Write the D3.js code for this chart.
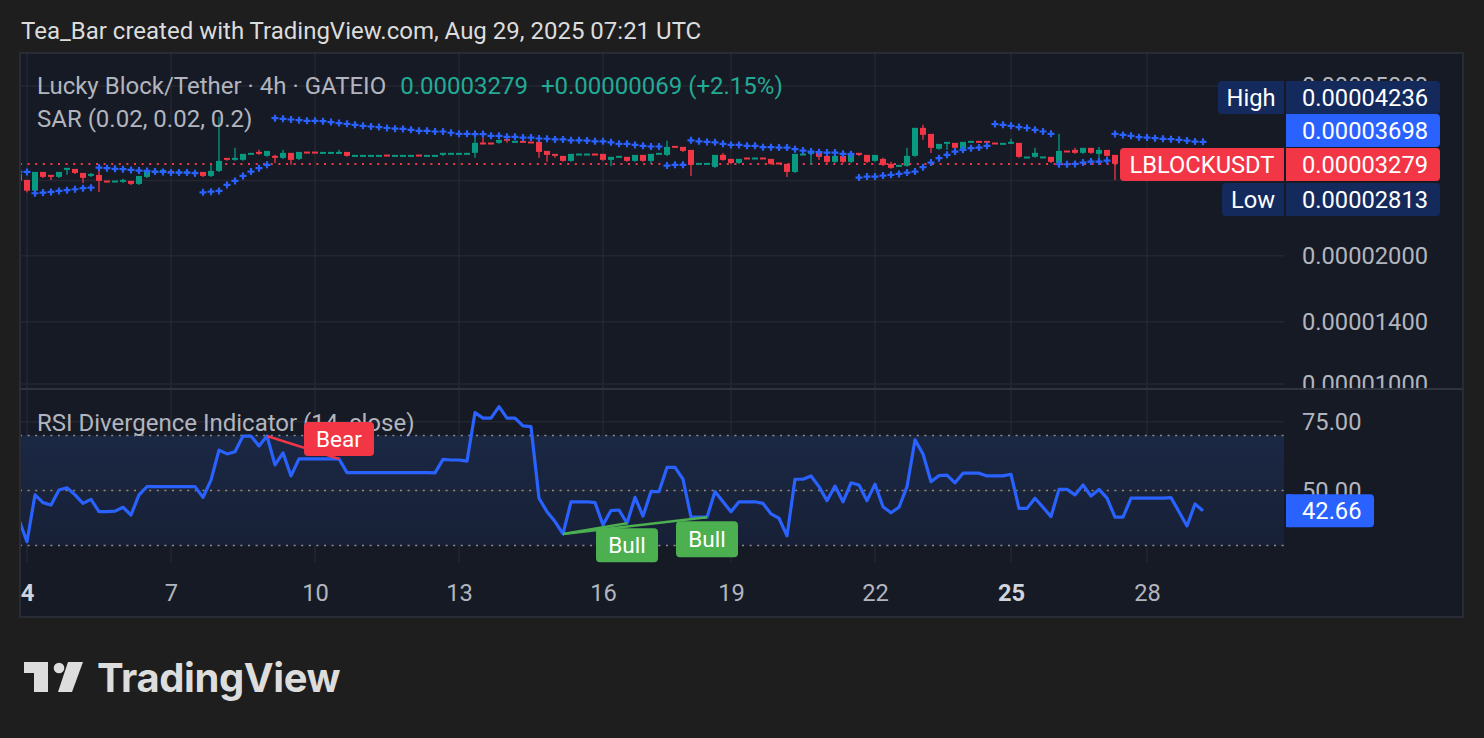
<!DOCTYPE html>
<html>
<head>
<meta charset="utf-8">
<script src="https://cdn.jsdelivr.net/npm/d3@7"></script>
<style>
  html, body { margin: 0; padding: 0; background: #1e1e1e; }
  svg { display: block; font-family: Roboto, "Noto Sans", sans-serif; }
</style>
</head>
<body>
<svg id="chart"></svg>
<script>
// Prices are kept in units of 0.00000001 USDT (1e-8), bars are 4h, first bar is one before the "4" tick
const opens = [
    3094, 2995, 2825, 3127, 3077, 3044, 3178, 3178, 3110, 3060,
    3077, 2985, 2979, 2963, 2979, 2931, 3044, 3110, 3110, 3144,
    3120, 3127, 3127, 3127, 3060, 3144, 3373, 3337, 3337, 3447,
    3484, 3410, 3410, 3373, 3466, 3355, 3490, 3490, 3478, 3478,
    3478, 3484, 3422, 3422, 3422, 3422, 3434, 3422, 3422, 3422,
    3434, 3422, 3422, 3428, 3460, 3460, 3460, 3466, 3665, 3665,
    3658, 3738, 3692, 3698, 3685, 3678, 3503, 3447, 3410, 3319,
    3447, 3447, 3453, 3447, 3337, 3405, 3392, 3319, 3428, 3319,
    3460, 3428, 3599, 3580, 3522, 3275, 3275, 3213, 3428, 3355,
    3283, 3380, 3373, 3380, 3355, 3290, 3266, 3127, 3447, 3466,
    3484, 3410, 3301, 3410, 3301, 3466, 3428, 3319, 3355, 3266,
    3231, 3231, 3410, 3967, 3840, 3542, 3638, 3658, 3542, 3690,
    3698, 3698, 3665, 3652, 3658, 3658, 3392, 3392, 3392, 3392,
    3283, 3510, 3522, 3466, 3561, 3447, 3522, 3428, 3266, 3300,
    3310, 3320, 3330, 3290, 3300, 3250, 3190, 3240, 3210
];
const highs = [
    3110, 3011, 3144, 3144, 3077, 3135, 3196, 3185, 3110, 3127,
    3231, 2990, 2990, 3028, 2979, 3060, 3127, 3144, 3161, 3144,
    3135, 3135, 3144, 3127, 3266, 4236, 3373, 3580, 3447, 3466,
    3542, 3503, 3447, 3542, 3466, 3484, 3490, 3490, 3484, 3484,
    3542, 3484, 3428, 3428, 3428, 3428, 3434, 3428, 3428, 3428,
    3434, 3428, 3428, 3466, 3466, 3466, 3466, 3799, 3799, 3665,
    3718, 3738, 3698, 3698, 3685, 3678, 3503, 3447, 3410, 3447,
    3453, 3453, 3453, 3447, 3392, 3410, 3392, 3428, 3428, 3447,
    3466, 3718, 3599, 3580, 3522, 3283, 3283, 3428, 3484, 3355,
    3355, 3380, 3380, 3380, 3355, 3290, 3266, 3447, 3453, 3503,
    3484, 3410, 3410, 3410, 3466, 3466, 3428, 3428, 3392, 3319,
    3248, 3580, 3967, 4054, 3840, 3638, 3678, 3658, 3678, 3698,
    3698, 3698, 3665, 3658, 3760, 3658, 3398, 3580, 3400, 3392,
    3862, 3510, 3580, 3561, 3561, 3599, 3522, 3428, 3320, 3330,
    3340, 3350, 3340, 3320, 3310, 3270, 3260, 3250, 3300
];
const lows = [
    2963, 2813, 2813, 3044, 3011, 3044, 3094, 3110, 2963, 3060,
    2822, 2975, 2979, 2963, 2931, 2931, 3044, 3110, 3110, 3110,
    3120, 3127, 3060, 3060, 3060, 3144, 3337, 3337, 3337, 3447,
    3447, 3410, 3301, 3373, 3266, 3355, 3484, 3478, 3478, 3478,
    3478, 3410, 3422, 3422, 3422, 3422, 3428, 3422, 3422, 3422,
    3428, 3422, 3422, 3428, 3460, 3460, 3460, 3392, 3652, 3652,
    3658, 3678, 3692, 3692, 3678, 3392, 3319, 3392, 3319, 3319,
    3447, 3447, 3447, 3337, 3248, 3405, 3319, 3319, 3319, 3283,
    3460, 3428, 3590, 3503, 3077, 3275, 3275, 3213, 3337, 3283,
    3283, 3373, 3373, 3373, 3266, 3283, 3060, 3127, 3447, 3266,
    3355, 3301, 3301, 3301, 3301, 3428, 3301, 3319, 3248, 3196,
    3231, 3231, 3410, 3738, 3484, 3542, 3542, 3561, 3542, 3690,
    3690, 3690, 3658, 3652, 3658, 3392, 3392, 3392, 3392, 3301,
    3283, 3503, 3466, 3466, 3466, 3392, 3410, 3011, 3240, 3280,
    3290, 3300, 3270, 3260, 3230, 3170, 3170, 3190, 3200
];
const closes = [
    2979, 2825, 3127, 3044, 3044, 3127, 3196, 3110, 3028, 3094,
    2979, 2979, 2985, 2995, 2931, 3060, 3127, 3144, 3161, 3127,
    3135, 3135, 3094, 3060, 3144, 3319, 3337, 3373, 3447, 3466,
    3447, 3503, 3373, 3466, 3337, 3484, 3484, 3478, 3484, 3484,
    3484, 3410, 3428, 3428, 3428, 3428, 3428, 3428, 3428, 3428,
    3428, 3428, 3428, 3466, 3466, 3466, 3466, 3658, 3652, 3652,
    3718, 3698, 3698, 3692, 3678, 3484, 3428, 3410, 3319, 3447,
    3453, 3453, 3447, 3337, 3392, 3410, 3319, 3428, 3319, 3447,
    3466, 3580, 3590, 3503, 3248, 3283, 3283, 3428, 3337, 3283,
    3355, 3373, 3380, 3373, 3266, 3283, 3127, 3447, 3453, 3484,
    3392, 3301, 3410, 3301, 3466, 3428, 3301, 3428, 3248, 3196,
    3248, 3410, 3967, 3820, 3561, 3638, 3678, 3561, 3678, 3698,
    3690, 3690, 3658, 3658, 3678, 3392, 3398, 3466, 3400, 3301,
    3503, 3503, 3466, 3561, 3466, 3522, 3410, 3266, 3300, 3310,
    3320, 3330, 3290, 3300, 3250, 3190, 3240, 3210, 3279
];
// Parabolic SAR (0.02, 0.02, 0.2)
const sarValues = [
    3144, 3144, 2802, 2812, 2822, 2837, 2848, 2863, 2879, 2888,
    3219, 3208, 3196, 3191, 3178, 3166, 3161, 3150, 3144, 3132,
    3132, 3132, 3122, 2816, 2826, 2837, 2931, 2995, 3077, 3150,
    3208, 3266, 4203, 4187, 4172, 4158, 4143, 4143, 4135, 4114,
    4092, 4076, 4054, 4033, 4018, 4005, 3985, 3971, 3965, 3946,
    3925, 3925, 3911, 3911, 3884, 3862, 3862, 3856, 3856, 3820,
    3820, 3799, 3799, 3785, 3785, 3766, 3760, 3746, 3746, 3728,
    3728, 3723, 3708, 3708, 3688, 3658, 3658, 3638, 3619, 3606,
    3606, 3253, 3266, 3266, 3728, 3708, 3696, 3688, 3658, 3638,
    3638, 3619, 3619, 3593, 3593, 3586, 3586, 3555, 3528, 3509,
    3497, 3490, 3490, 3466, 3460, 3049, 3065, 3065, 3082, 3094,
    3110, 3132, 3150, 3226, 3306, 3386, 3447, 3509, 3542, 3574,
    3586, 3619, 4070, 4054, 4033, 4005, 3985, 3946, 3911, 3862,
    3277, 3277, 3283, 3306, 3325, 3325, 3343, 3860, 3840, 3820,
    3793, 3785, 3773, 3758, 3752, 3738, 3724, 3704, 3698
];
// RSI (14, close)
const rsiValues = [
    39.3, 31.4, 48.4, 45.6, 44.7, 50.2, 51.0, 48.4, 45.3, 46.8,
    42.3, 42.3, 42.5, 43.9, 41.1, 48.4, 51.4, 51.4, 51.4, 51.4,
    51.4, 51.4, 51.4, 47.5, 53.8, 64.7, 63.3, 64.1, 69.8, 69.8,
    66.2, 69.8, 59.3, 63.7, 55.3, 61.5, 61.5, 61.5, 61.5, 61.5,
    61.5, 56.5, 56.5, 56.5, 56.5, 56.5, 56.5, 56.5, 56.5, 56.5,
    56.5, 56.5, 56.4, 61.3, 61.1, 61.1, 60.7, 78.3, 76.3, 76.3,
    80.5, 76.3, 76.3, 73.5, 73.2, 47.2, 42.3, 38.7, 34.2, 45.9,
    45.9, 45.9, 45.6, 37.5, 42.7, 42.9, 38.1, 47.5, 40.7, 49.6,
    49.6, 58.4, 58.4, 54.1, 40.3, 40.3, 40.3, 49.6, 45.9, 42.3,
    45.9, 45.9, 45.9, 45.3, 41.5, 39.9, 33.5, 54.1, 54.1, 55.3,
    51.4, 46.3, 51.6, 45.9, 52.8, 52.0, 46.3, 52.3, 44.1, 41.9,
    43.9, 51.4, 68.4, 63.3, 53.2, 55.4, 55.6, 52.8, 56.3, 56.3,
    56.3, 55.3, 55.3, 55.3, 55.9, 43.5, 43.5, 47.2, 43.9, 40.5,
    50.4, 50.4, 48.4, 52.0, 48.0, 50.4, 47.2, 40.3, 40.3, 47.2,
    47.2, 47.2, 47.2, 47.2, 47.4, 42.3, 37.1, 45.1, 42.66
];

// day labels and the bar index where each day starts
const tickBars = [1, 19, 37, 55, 73, 89, 107, 124, 141];
const tickLabels = ["4", "7", "10", "13", "16", "19", "22", "25", "28"];
const boldTicks = ["4", "25"];

const priceGrid = [5000, 3000, 2000, 1400, 1000];
const priceLabels = [5000, 2000, 1400, 1000];
const rsiGrid = [75, 50];
const rsiLevels = [70, 50, 30];

// divergence segments (bar index from -> to)
const divergences = [
    { type: "Bear", from: 31, to: 40 },
    { type: "Bull", from: 68, to: 76 },
    { type: "Bull", from: 68, to: 86 }
];

const lastPrice = 3279, sarLast = 3698, highPrice = 4236, lowPrice = 2813, rsiLast = 42.66;

const dimensions = {
    width: 1484,
    height: 738,
    frame: { left: 20, top: 53, right: 1463, bottom: 617 },
    plotRight: 1284,
    priceTop: 54, priceBottom: 388,
    rsiTop: 390, rsiBottom: 562
};

const colors = {
    bg: "#1e1e1e",
    pane: "#161a25",
    grid: "#242732",
    border: "#2e323c",
    text: "#b2b5be",
    up: "#089981",
    down: "#f23645",
    blue: "#2962ff",
    navy: "#152a5c",
    bull: "#4caf50",
    legendGreen: "#22ab94"
};

const fmtPrice = d => "0." + String(Math.round(d)).padStart(8, "0");

const xScale = d3.scaleLinear()
    .domain([0, closes.length - 1])
    .range([19, 1203]);

const yPrice = d3.scaleLog()
    .domain([1000, 5000])
    .range([384, 86]);

const yRsi = d3.scaleLinear()
    .domain([30, 70])
    .range([545.5, 435.5]);

const svg = d3.select("#chart")
    .attr("width", dimensions.width)
    .attr("height", dimensions.height);

const defs = svg.append("defs");
defs.append("clipPath").attr("id", "clipPrice")
    .append("rect")
    .attr("x", dimensions.frame.left + 1).attr("y", dimensions.priceTop)
    .attr("width", dimensions.plotRight - dimensions.frame.left - 1)
    .attr("height", dimensions.priceBottom - dimensions.priceTop);
defs.append("clipPath").attr("id", "clipRsi")
    .append("rect")
    .attr("x", dimensions.frame.left + 1).attr("y", dimensions.rsiTop)
    .attr("width", dimensions.plotRight - dimensions.frame.left - 1)
    .attr("height", dimensions.rsiBottom - dimensions.rsiTop);
defs.append("clipPath").attr("id", "clipPriceAxis")
    .append("rect")
    .attr("x", dimensions.plotRight).attr("y", dimensions.priceTop)
    .attr("width", dimensions.frame.right - dimensions.plotRight)
    .attr("height", dimensions.priceBottom - dimensions.priceTop);

const bandGrad = defs.append("linearGradient").attr("id", "bandGrad")
    .attr("x1", 0).attr("x2", 0).attr("y1", 0).attr("y2", 1);
bandGrad.append("stop").attr("offset", "0%").attr("stop-color", "#1b2844");
bandGrad.append("stop").attr("offset", "100%").attr("stop-color", "#172036");

// page background + header
svg.append("rect").attr("width", dimensions.width).attr("height", dimensions.height).attr("fill", colors.bg);
svg.append("text")
    .attr("x", 21).attr("y", 38.5)
    .attr("fill", "#dcdcdc")
    .style("font-size", "24px")
    .text("Tea_Bar created with TradingView.com, Aug 29, 2025 07:21 UTC");

// chart frame
svg.append("rect")
    .attr("x", dimensions.frame.left).attr("y", dimensions.frame.top)
    .attr("width", dimensions.frame.right - dimensions.frame.left)
    .attr("height", dimensions.frame.bottom - dimensions.frame.top)
    .attr("fill", colors.pane)
    .attr("stroke", colors.border)
    .attr("stroke-width", 1.5);

// vertical grid
const gridG = svg.append("g");
tickBars.forEach(b => {
    gridG.append("line")
        .attr("x1", xScale(b)).attr("x2", xScale(b))
        .attr("y1", dimensions.priceTop).attr("y2", dimensions.rsiBottom)
        .attr("stroke", colors.grid).attr("stroke-width", 1.5);
});
priceGrid.forEach(p => {
    gridG.append("line")
        .attr("x1", dimensions.frame.left).attr("x2", dimensions.plotRight)
        .attr("y1", yPrice(p)).attr("y2", yPrice(p))
        .attr("stroke", colors.grid).attr("stroke-width", 1.5);
});

// ---------- RSI pane ----------
const rsiG = svg.append("g").attr("clip-path", "url(#clipRsi)");
rsiG.append("rect")
    .attr("x", dimensions.frame.left).attr("y", yRsi(70))
    .attr("width", dimensions.plotRight - dimensions.frame.left)
    .attr("height", yRsi(30) - yRsi(70))
    .attr("fill", "url(#bandGrad)");
rsiGrid.forEach(r => {
    rsiG.append("line")
        .attr("x1", dimensions.frame.left).attr("x2", dimensions.plotRight)
        .attr("y1", yRsi(r)).attr("y2", yRsi(r))
        .attr("stroke", colors.grid).attr("stroke-width", 1.5);
});
rsiLevels.forEach(r => {
    rsiG.append("line")
        .attr("x1", dimensions.frame.left).attr("x2", dimensions.plotRight)
        .attr("y1", yRsi(r)).attr("y2", yRsi(r))
        .attr("stroke", "#8a8d96").attr("stroke-width", 1.5)
        .attr("stroke-dasharray", "2 5.6");
});
rsiG.append("path")
    .datum(rsiValues)
    .attr("fill", "none")
    .attr("stroke", colors.blue)
    .attr("stroke-width", 3.2)
    .attr("stroke-linejoin", "round")
    .attr("d", d3.line().x((d, i) => xScale(i)).y(d => yRsi(d)));

// divergence lines
divergences.forEach(dv => {
    rsiG.append("line")
        .attr("x1", xScale(dv.from)).attr("y1", yRsi(rsiValues[dv.from]))
        .attr("x2", xScale(dv.to)).attr("y2", yRsi(rsiValues[dv.to]))
        .attr("stroke", dv.type === "Bear" ? colors.down : colors.bull)
        .attr("stroke-width", 2.6);
});

svg.append("text")
    .attr("x", 37).attr("y", 430.5)
    .attr("fill", colors.text)
    .style("font-size", "24px")
    .text("RSI Divergence Indicator (14, close)");

// divergence labels
const labelSizes = [
    { w: 70, h: 34, off: 3 },
    { w: 62, h: 34, off: 5 },
    { w: 62, h: 36, off: 4 }
];
divergences.forEach((dv, k) => {
    const cx = xScale(dv.to);
    const py = yRsi(rsiValues[dv.to]);
    const s = labelSizes[k];
    const top = dv.type === "Bear" ? py - s.off - s.h : py + s.off;
    svg.append("rect")
        .attr("x", cx - s.w / 2).attr("y", top)
        .attr("width", s.w).attr("height", s.h)
        .attr("rx", 4)
        .attr("fill", dv.type === "Bear" ? colors.down : colors.bull);
    svg.append("text")
        .attr("x", cx).attr("y", top + s.h / 2 + 8)
        .attr("text-anchor", "middle")
        .attr("fill", "#ffffff")
        .style("font-size", "22.5px")
        .text(dv.type);
});

// ---------- Price pane ----------
const priceG = svg.append("g").attr("clip-path", "url(#clipPrice)");

// last price dotted line
priceG.append("line")
    .attr("x1", dimensions.frame.left).attr("x2", dimensions.plotRight)
    .attr("y1", yPrice(lastPrice)).attr("y2", yPrice(lastPrice))
    .attr("stroke", colors.down).attr("stroke-width", 2)
    .attr("stroke-dasharray", "2 5.6");

const candles = closes.map((c, i) => ({ i, o: opens[i], h: highs[i], l: lows[i], c }));

priceG.selectAll(".wick")
    .data(candles)
    .enter()
    .append("line")
    .attr("class", "wick")
    .attr("x1", d => xScale(d.i)).attr("x2", d => xScale(d.i))
    .attr("y1", d => yPrice(d.h)).attr("y2", d => yPrice(d.l))
    .attr("stroke", d => d.c >= d.o ? colors.up : colors.down)
    .attr("stroke-width", 1.3);

priceG.selectAll(".body")
    .data(candles)
    .enter()
    .append("rect")
    .attr("class", "body")
    .attr("x", d => xScale(d.i) - 3)
    .attr("width", 6)
    .attr("y", d => yPrice(Math.max(d.o, d.c)) - 1)
    .attr("height", d => Math.max(2, Math.abs(yPrice(d.o) - yPrice(d.c))))
    .attr("fill", d => d.c >= d.o ? colors.up : colors.down);

// SAR crosses
priceG.selectAll(".sar")
    .data(sarValues)
    .enter()
    .append("path")
    .attr("class", "sar")
    .attr("d", (d, i) => {
        const x = xScale(i), y = yPrice(d);
        return `M${x - 3.5},${y}H${x + 3.5}M${x},${y - 3.5}V${y + 3.5}`;
    })
    .attr("stroke", colors.blue)
    .attr("stroke-width", 2.2)
    .attr("fill", "none");

// legend
const legend = svg.append("text").attr("x", 37).attr("y", 93.5).style("font-size", "24px");
legend.append("tspan").attr("fill", colors.text).text("Lucky Block/Tether · 4h · GATEIO");
legend.append("tspan").attr("fill", colors.legendGreen).attr("dx", 14).text(fmtPrice(lastPrice));
legend.append("tspan").attr("fill", colors.legendGreen).attr("dx", 13)
    .text("+" + fmtPrice(lastPrice - 3210) + " (+2.15%)");
svg.append("text")
    .attr("x", 37).attr("y", 126.5)
    .attr("fill", colors.text)
    .style("font-size", "24px")
    .text("SAR (0.02, 0.02, 0.2)");

// pane separator
svg.append("line")
    .attr("x1", dimensions.frame.left).attr("x2", dimensions.frame.right)
    .attr("y1", 389).attr("y2", 389)
    .attr("stroke", "#2f333e").attr("stroke-width", 2);

// ---------- Axes ----------
const priceAxis = svg.append("g")
    .attr("clip-path", "url(#clipPriceAxis)")
    .append("g")
    .attr("transform", `translate(${dimensions.plotRight + 2},0)`)
    .call(d3.axisRight(yPrice).tickValues(priceLabels).tickFormat(fmtPrice).tickSize(0).tickPadding(16));
priceAxis.select(".domain").remove();
priceAxis.selectAll("text")
    .attr("fill", colors.text)
    .style("font-size", "23.7px")
    .style("font-family", "Roboto");

const rsiAxis = svg.append("g")
    .attr("transform", `translate(${dimensions.plotRight + 2},0)`)
    .call(d3.axisRight(yRsi).tickValues(rsiGrid).tickFormat(d3.format(".2f")).tickSize(0).tickPadding(16));
rsiAxis.select(".domain").remove();
rsiAxis.selectAll("text")
    .attr("fill", colors.text)
    .style("font-size", "23.7px")
    .style("font-family", "Roboto");

const xAxis = svg.append("g")
    .attr("transform", `translate(0,${dimensions.rsiBottom})`)
    .call(d3.axisBottom(xScale).tickValues(tickBars).tickFormat((d, i) => tickLabels[i]).tickSize(0).tickPadding(22));
xAxis.select(".domain").remove();
xAxis.selectAll("text")
    .attr("fill", d => boldTicks.includes(tickLabels[tickBars.indexOf(d)]) ? "#d1d4dc" : colors.text)
    .style("font-weight", d => boldTicks.includes(tickLabels[tickBars.indexOf(d)]) ? "700" : "400")
    .style("font-size", "23.7px")
    .style("font-family", "Roboto");

// ---------- price scale labels ----------
function scaleLabel(y, h, value, fill, tag, tagWidth) {
    const g = svg.append("g");
    if (tag) {
        g.append("rect")
            .attr("x", dimensions.plotRight - tagWidth).attr("y", y)
            .attr("width", tagWidth).attr("height", h)
            .attr("rx", 4).attr("fill", fill);
        g.append("rect")
            .attr("x", dimensions.plotRight - 6).attr("y", y)
            .attr("width", 6).attr("height", h).attr("fill", fill);
        g.append("text")
            .attr("x", dimensions.plotRight - tagWidth / 2).attr("y", y + h / 2 + 8.5)
            .attr("text-anchor", "middle")
            .attr("fill", "#ffffff")
            .style("font-size", "23.7px")
            .text(tag);
    }
    g.append("rect")
        .attr("x", dimensions.plotRight + 2).attr("y", y)
        .attr("width", 154).attr("height", h)
        .attr("rx", 4).attr("fill", fill);
    g.append("rect")
        .attr("x", dimensions.plotRight + 2).attr("y", y)
        .attr("width", 6).attr("height", h).attr("fill", fill);
    g.append("text")
        .attr("x", dimensions.plotRight + 18).attr("y", y + h / 2 + 8.5)
        .attr("fill", "#ffffff")
        .style("font-size", "23.7px")
        .text(value);
}
scaleLabel(81, 33, fmtPrice(highPrice), colors.navy, "High", 66);
scaleLabel(114, 33, fmtPrice(sarLast), colors.blue, null, 0);
scaleLabel(148, 33, fmtPrice(lastPrice), colors.down, "LBLOCKUSDT", 164);
scaleLabel(183, 33, fmtPrice(lowPrice), colors.navy, "Low", 62);

// RSI last value label
const rsiY = yRsi(rsiLast);
svg.append("rect")
    .attr("x", dimensions.plotRight + 2).attr("y", rsiY - 16.5)
    .attr("width", 88).attr("height", 33)
    .attr("rx", 4).attr("fill", colors.blue);
svg.append("rect")
    .attr("x", dimensions.plotRight + 2).attr("y", rsiY - 16.5)
    .attr("width", 6).attr("height", 33).attr("fill", colors.blue);
svg.append("text")
    .attr("x", dimensions.plotRight + 18).attr("y", rsiY + 8.5)
    .attr("fill", "#ffffff")
    .style("font-size", "23.7px")
    .text(d3.format(".2f")(rsiLast));

// ---------- TradingView logo ----------
const logo = svg.append("g").attr("fill", "#dddddd");
logo.append("path").attr("d", "M24,662H48V692H34V673H24Z");
logo.append("circle").attr("cx", 59).attr("cy", 668).attr("r", 5.3);
logo.append("path").attr("d", "M68,662H83L72,692H58Z");
logo.append("text")
    .attr("x", 97).attr("y", 692)
    .style("font-family", "Inter, 'Noto Sans', sans-serif")
    .style("font-size", "40px")
    .style("font-weight", "700")
    .style("letter-spacing", "-0.4px")
    .text("TradingView");
</script>
</body>
</html>
